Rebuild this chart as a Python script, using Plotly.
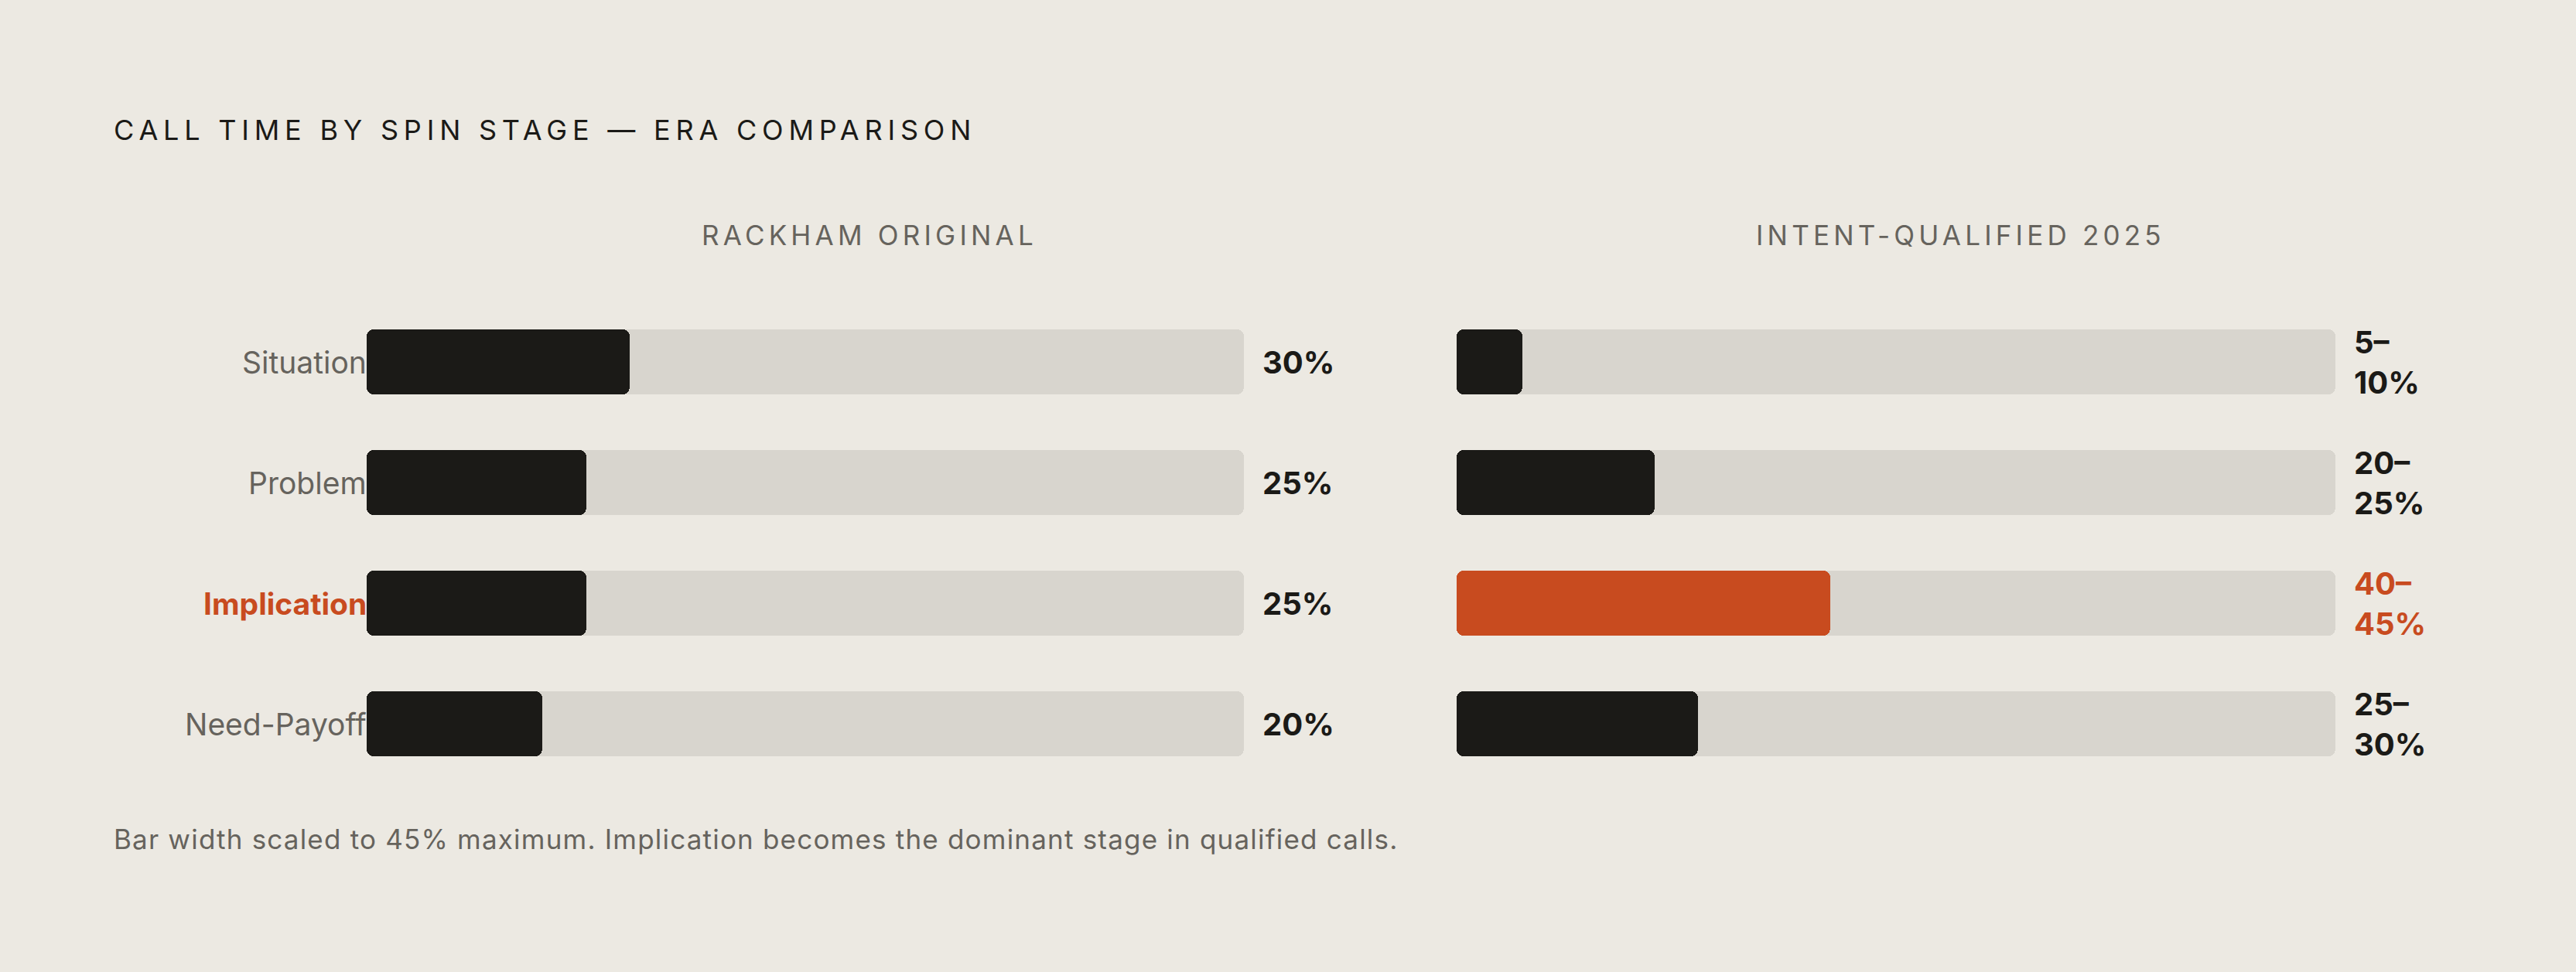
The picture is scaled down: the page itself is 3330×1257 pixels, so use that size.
import plotly.graph_objects as go

# ---- data ----
stages = ["Situation", "Problem", "Implication", "Need-Payoff"]
rackham_pct = [30, 25, 25, 20]
qualified_low = [5, 20, 40, 25]
qualified_high = [10, 25, 45, 30]
highlight_stage = "Implication"
scale_max = 100

title_text = "CALL TIME BY SPIN STAGE — ERA COMPARISON"
panel_titles = ["RACKHAM ORIGINAL", "INTENT-QUALIFIED 2025"]
footnote = "Bar width scaled to 45% maximum. Implication becomes the dominant stage in qualified calls."

# ---- style ----
W, H = 3330, 1257
BG = "#ECE9E2"
TRACK = "#D8D5CE"
DARK = "#1B1A17"
ORANGE = "#C84B1F"
GRAY = "#66635D"
FONT = "Inter"
BAR_W = 0.54
RAD = 9

qualified_mid = [(a + b) / 2 for a, b in zip(qualified_low, qualified_high)]
qualified_lbl = [f"{a}–<br>{b}%" for a, b in zip(qualified_low, qualified_high)]
rackham_lbl = [f"{v}%" for v in rackham_pct]

fig = go.Figure()


def rounded_bars(values, colors, xa, ya):
    # two overlapping halves so both ends of every bar get rounded corners
    fig.add_trace(go.Bar(
        y=stages, x=[-0.6 * v for v in values], base=[0.6 * v for v in values],
        orientation="h", width=BAR_W, marker=dict(color=colors, cornerradius=RAD, line=dict(width=0)),
        xaxis=xa, yaxis=ya, hoverinfo="skip", showlegend=False))
    fig.add_trace(go.Bar(
        y=stages, x=[0.6 * v for v in values], base=[0.4 * v for v in values],
        orientation="h", width=BAR_W, marker=dict(color=colors, cornerradius=RAD, line=dict(width=0)),
        xaxis=xa, yaxis=ya, hoverinfo="skip", showlegend=False))


panels = [
    ("x", "y", rackham_pct, [DARK] * 4, rackham_lbl, [DARK] * 4),
    ("x2", "y2", qualified_mid, [ORANGE if s == highlight_stage else DARK for s in stages], qualified_lbl,
     [ORANGE if s == highlight_stage else DARK for s in stages]),
]

for xa, ya, vals, fill_colors, lbls, lbl_colors in panels:
    rounded_bars([scale_max] * len(stages), [TRACK] * len(stages), xa, ya)
    rounded_bars(vals, fill_colors, xa, ya)
    for s, lbl, c in zip(stages, lbls, lbl_colors):
        fig.add_annotation(
            x=scale_max, y=s, xref=xa, yref=ya, text=f"<b>{lbl}</b>",
            xanchor="left", yanchor="middle", align="left", xshift=22, showarrow=False,
            font=dict(family=FONT, size=40, color=c))

# category labels (left panel)
for s in stages:
    hl = s == highlight_stage
    fig.add_annotation(
        x=0, y=s, xref="x", yref="y",
        text=f"<b>{s}</b>" if hl else s,
        xanchor="right", yanchor="middle", xshift=2, showarrow=False,
        font=dict(family=FONT, size=39, color=ORANGE if hl else GRAY))

# panel titles
for t, cx in zip(panel_titles, [1124 / W, 2534 / W]):
    fig.add_annotation(
        x=cx, y=1 - 304 / H, xref="paper", yref="paper",
        text=f'<span style="letter-spacing:5.2px">{t}</span>',
        xanchor="center", yanchor="middle", showarrow=False,
        font=dict(family=FONT, size=35, color=GRAY))

# title
fig.add_annotation(
    x=145 / W, y=1 - 168 / H, xref="paper", yref="paper",
    text=f'<span style="letter-spacing:6.8px">{title_text}</span>',
    xanchor="left", yanchor="middle", showarrow=False,
    font=dict(family=FONT, size=36, color=DARK))

# footnote
fig.add_annotation(
    x=145 / W, y=1 - 1085 / H, xref="paper", yref="paper",
    text=f'<span style="letter-spacing:1.2px">{footnote}</span>',
    xanchor="left", yanchor="middle", showarrow=False,
    font=dict(family=FONT, size=35, color=GRAY))

ydom = [1 - 1014 / H, 1 - 390 / H]
axis_common = dict(showgrid=False, zeroline=False, showticklabels=False, showline=False, ticks="")
fig.update_layout(
    width=W, height=H, margin=dict(l=0, r=0, t=0, b=0),
    paper_bgcolor=BG, plot_bgcolor=BG, barmode="overlay", bargap=0,
    xaxis=dict(domain=[474 / W, 1608 / W], range=[0, scale_max], fixedrange=True, **axis_common),
    xaxis2=dict(domain=[1883 / W, 3019 / W], range=[0, scale_max], fixedrange=True, anchor="y2", **axis_common),
    yaxis=dict(domain=ydom, type="category", categoryorder="array", categoryarray=stages,
               range=[len(stages) - 0.5, -0.5], fixedrange=True, **axis_common),
    yaxis2=dict(domain=ydom, type="category", categoryorder="array", categoryarray=stages,
                range=[len(stages) - 0.5, -0.5], fixedrange=True, anchor="x2", **axis_common),
    hovermode=False,
)

fig.write_html("out.html", config={"displayModeBar": False})
